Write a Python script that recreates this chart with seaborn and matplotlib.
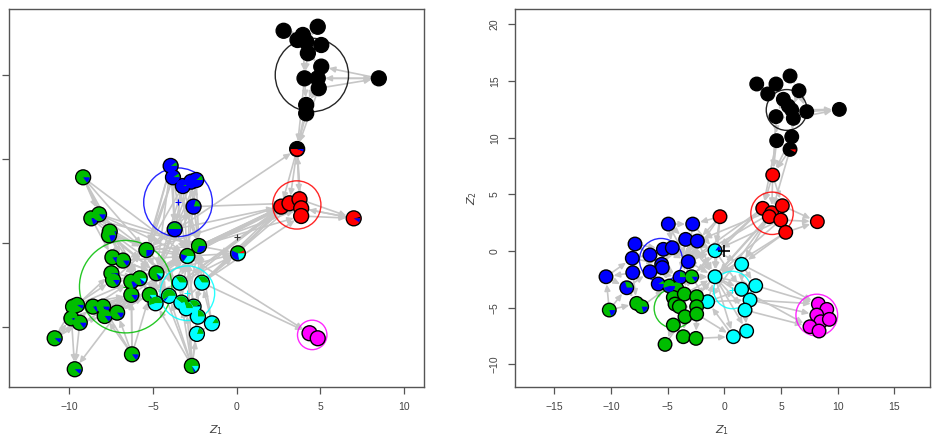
import numpy as np
import pandas as pd
import matplotlib
matplotlib.use("Agg")
import matplotlib.pyplot as plt
import seaborn as sns
from matplotlib.patches import Wedge, Circle

# ---------------- data ----------------
cluster_order = ["black", "red", "green", "blue", "cyan", "magenta"]
cluster_colors = {"black": "#000000", "red": "#FF0000", "green": "#00BE00",
                  "blue": "#0000FF", "cyan": "#00FFFF", "magenta": "#FF00FF"}

# ---- left panel (mixed-membership fit) ----
left_names = ["K1", "K2", "K3", "K4", "K5", "K6", "K7", "K8", "K9", "K10", "K11", "K12", "K13", "K14", "K15",
              "R1", "R2", "R3", "R4", "R5", "R6",
              "M1", "M2",
              "B1", "B2", "B3", "B4", "B5", "B6", "B7",
              "G1", "G2", "G3", "G4", "G5", "G6", "G7", "G8", "G9", "G10", "G11", "G12", "G13", "G14", "G15",
              "G16", "G17", "G18", "G19", "G20", "G21", "G22", "G23", "G24", "G25", "G26", "G27", "G28", "G29", "G30",
              "C1", "C2", "C3", "C4", "C5", "C6", "C7", "C8", "C9", "C10"]
left_x = [2.81, 4.85, 3.96, 3.64, 4.16, 5.06, 4.26, 5.06, 4.06, 4.85, 4.91, 4.16, 4.16, 8.50, 3.62,
          2.67, 3.16, 3.76, 3.86, 3.86, 7.00,
          4.36, 4.85,
          -3.94, -3.80, -3.21, -2.71, -2.41, -2.57, -3.70,
          -9.17, -8.68, -8.22, -7.58, -7.62, -5.39, -7.42, -6.79, -7.48, -7.38, -6.29, -5.79, -4.79, -6.29, -5.19,
          -9.77, -9.53, -9.87, -9.37, -8.58, -7.98, -7.88, -7.14, -10.87, -9.67, -6.25, -2.67, -2.25, -2.94, 0.08,
          -3.40, -2.07, -4.04, -4.84, -3.30, -2.57, -3.00, -2.31, -1.47, -2.37]
left_y = [12.67, 12.91, 12.42, 12.12, 12.02, 11.82, 11.33, 10.53, 9.83, 9.83, 9.24, 8.24, 7.74, 9.83, 5.61,
          2.17, 2.37, 2.61, 2.07, 1.61, 1.47,
          -5.39, -5.69,
          4.60, 3.92, 3.40, 3.66, 3.76, 2.17, 0.82,
          3.92, 1.47, 1.71, 0.68, 0.45, -0.42, -0.86, -1.05, -1.81, -2.21, -2.31, -2.11, -1.81, -3.10, -3.10,
          -3.80, -3.70, -4.50, -4.76, -3.80, -3.80, -4.36, -4.16, -5.69, -7.54, -6.65, -7.34, -0.18, -0.78, -0.62,
          -2.37, -2.37, -3.16, -3.60, -3.56, -3.80, -3.90, -4.40, -4.80, -5.43]
left_group = (["black"] * 15 + ["red"] * 6 + ["magenta"] * 2 + ["blue"] * 7 +
              ["green"] * 30 + ["cyan"] * 10)

# membership fractions (black, red, green, blue, cyan, magenta) for mixed nodes
left_mix = {
    "K15": [0.50, 0.44, 0, 0.06, 0, 0], "R6": [0.04, 0.86, 0, 0.10, 0, 0],
    "B1": [0, 0, 0.10, 0.90, 0, 0], "B2": [0, 0, 0.10, 0.90, 0, 0], "B3": [0, 0, 0.08, 0.92, 0, 0],
    "B4": [0, 0, 0.10, 0.90, 0, 0], "B5": [0, 0, 0.12, 0.88, 0, 0], "B6": [0, 0, 0.20, 0.80, 0, 0],
    "B7": [0, 0, 0.50, 0.50, 0, 0],
    "G1": [0, 0, 0.85, 0.15, 0, 0], "G2": [0, 0, 0.80, 0.20, 0, 0], "G3": [0, 0, 0.85, 0.15, 0, 0],
    "G4": [0, 0, 0.80, 0.20, 0, 0], "G5": [0, 0, 0.80, 0.20, 0, 0], "G6": [0, 0, 0.75, 0.25, 0, 0],
    "G7": [0, 0, 0.85, 0.15, 0, 0], "G8": [0, 0, 0.85, 0.15, 0, 0], "G9": [0, 0, 0.85, 0.15, 0, 0],
    "G10": [0, 0, 0.85, 0.15, 0, 0], "G11": [0, 0, 0.80, 0.20, 0, 0], "G12": [0, 0, 0.80, 0.10, 0.10, 0],
    "G13": [0, 0, 0.80, 0.10, 0.10, 0], "G14": [0, 0, 0.85, 0.15, 0, 0], "G15": [0, 0, 0.80, 0.05, 0.15, 0],
    "G16": [0, 0, 0.90, 0.10, 0, 0], "G17": [0, 0, 0.90, 0.10, 0, 0], "G18": [0, 0, 0.90, 0.10, 0, 0],
    "G19": [0, 0, 0.85, 0.15, 0, 0], "G20": [0, 0, 0.85, 0.15, 0, 0], "G21": [0, 0, 0.85, 0.15, 0, 0],
    "G22": [0, 0, 0.85, 0.15, 0, 0], "G23": [0, 0, 0.85, 0.15, 0, 0], "G24": [0, 0, 0.88, 0.12, 0, 0],
    "G25": [0, 0, 0.88, 0.12, 0, 0], "G26": [0, 0, 0.85, 0.15, 0, 0], "G27": [0, 0, 0.80, 0.05, 0.15, 0],
    "G28": [0, 0, 0.70, 0.30, 0, 0], "G29": [0, 0, 0.45, 0.20, 0.35, 0],
    "G30": [0, 0.08, 0.35, 0.35, 0.22, 0],
    "C1": [0, 0, 0.35, 0, 0.65, 0], "C2": [0, 0, 0.35, 0, 0.65, 0], "C3": [0, 0, 0.60, 0.05, 0.35, 0],
    "C4": [0, 0, 0.55, 0, 0.45, 0], "C5": [0, 0, 0.40, 0, 0.60, 0], "C6": [0.05, 0, 0.30, 0, 0.65, 0],
    "C7": [0, 0, 0.30, 0, 0.70, 0], "C8": [0, 0, 0.25, 0, 0.75, 0], "C9": [0, 0, 0.15, 0, 0.85, 0],
    "C10": [0, 0, 0.20, 0, 0.80, 0],
}

left_edges = [
    ("K1", "K3"), ("K1", "K4"), ("K1", "K7"), ("K2", "K3"), ("K2", "K5"), ("K3", "K5"), ("K4", "K5"),
    ("K5", "K6"), ("K6", "K7"), ("K7", "K8"), ("K7", "K9"), ("K8", "K10"), ("K9", "K10"), ("K9", "K11"),
    ("K10", "K11"), ("K11", "K12"), ("K12", "K13"), ("K9", "K12"), ("K8", "K12"), ("K14", "K8"),
    ("K14", "K10"), ("K9", "K14"), ("K11", "K14"), ("K3", "K9"), ("K4", "K7"),
    ("K12", "K15"), ("K13", "K15"), ("K11", "K15"), ("K9", "K15"),
    ("K15", "R1"), ("K15", "R2"), ("K15", "R3"), ("K15", "R4"), ("R3", "K15"),
    ("R1", "R2"), ("R2", "R3"), ("R3", "R4"), ("R4", "R5"), ("R1", "R5"), ("R2", "R5"),
    ("R3", "R6"), ("R4", "R6"), ("R5", "R6"), ("R6", "R4"),
    ("G28", "R1"), ("G28", "R2"), ("G29", "R1"), ("C2", "R1"), ("C2", "R2"), ("G28", "R3"), ("B7", "R1"),
    ("B6", "R2"), ("G13", "R1"), ("G30", "R1"), ("C1", "R2"), ("G6", "K15"),
    ("C1", "R1"), ("C5", "R2"), ("C3", "R1"), ("G12", "R1"), ("G6", "R2"), ("G29", "R3"), ("C2", "R3"),
    ("G28", "R4"), ("G28", "R5"), ("C2", "R5"),
    ("G28", "G30"), ("G29", "G30"), ("C2", "G30"), ("C1", "G30"), ("G13", "G30"),
    ("G29", "M1"), ("C2", "M1"), ("M1", "M2"),
    ("B1", "B2"), ("B2", "B3"), ("B3", "B4"), ("B4", "B5"), ("B1", "B3"), ("B2", "B4"), ("B6", "B5"),
    ("B7", "B6"), ("B1", "B7"), ("B3", "B7"), ("B2", "B7"), ("B4", "B6"),
    ("B1", "G6"), ("B2", "G29"), ("B3", "G28"), ("B4", "G29"), ("B5", "G13"), ("B6", "G28"), ("B7", "G29"),
    ("B7", "G13"), ("B2", "G12"), ("B3", "G6"), ("B1", "G13"), ("B5", "G29"), ("B6", "G6"),
    ("B1", "G12"), ("B2", "G6"), ("B3", "G13"), ("B4", "G13"), ("B5", "G28"), ("B6", "G13"), ("B7", "G6"),
    ("B1", "G28"), ("B2", "G28"), ("B4", "G28"), ("B3", "G29"),
    ("G1", "G4"), ("G1", "G6"), ("G1", "G29"), ("G1", "G3"), ("G2", "G3"), ("G2", "G7"), ("G3", "G4"),
    ("G4", "G6"), ("G4", "G8"), ("G5", "G13"), ("G2", "G13"), ("G3", "G28"), ("G6", "G8"), ("G7", "G8"),
    ("G7", "G9"), ("G8", "G12"), ("G9", "G10"), ("G10", "G11"), ("G11", "G12"), ("G12", "G13"),
    ("G11", "G14"), ("G12", "G15"), ("G13", "G15"), ("G14", "G15"), ("G14", "G23"), ("G15", "G23"),
    ("G16", "G17"), ("G16", "G18"), ("G17", "G19"), ("G18", "G19"), ("G17", "G20"), ("G20", "G21"),
    ("G21", "G22"), ("G22", "G23"), ("G19", "G22"), ("G16", "G10"), ("G17", "G9"), ("G20", "G11"),
    ("G21", "G14"), ("G23", "G14"), ("G24", "G16"), ("G24", "G18"), ("G24", "G20"), ("G24", "G19"),
    ("G18", "G25"), ("G19", "G25"), ("G14", "G25"), ("G26", "G14"), ("G26", "G15"), ("G26", "G21"),
    ("G26", "G22"), ("G26", "G11"), ("G26", "G23"),
    ("G1", "G8"), ("G1", "G12"), ("G2", "G6"), ("G3", "G6"), ("G4", "G12"), ("G5", "G8"), ("G7", "G12"),
    ("G8", "G13"), ("G9", "G12"), ("G10", "G13"), ("G11", "G13"), ("G14", "G12"), ("G16", "G11"),
    ("G17", "G14"), ("G18", "G14"), ("G19", "G23"), ("G20", "G14"), ("G21", "G15"), ("G22", "G15"),
    ("G23", "G12"), ("G24", "G14"), ("G9", "G6"), ("G10", "G6"), ("G6", "G13"), ("G6", "G29"),
    ("G12", "G29"), ("G8", "G29"), ("G11", "G29"), ("G14", "G29"), ("G15", "G29"), ("G13", "G28"),
    ("G12", "G28"),
    ("G27", "C4"), ("G27", "C5"), ("G27", "C7"), ("G27", "C8"), ("G27", "C10"), ("G27", "G29"),
    ("G27", "G13"), ("G27", "C3"),
    ("C1", "G13"), ("C1", "G15"), ("C3", "G15"), ("C4", "G15"), ("C3", "G12"), ("C5", "C6"), ("C6", "C8"),
    ("C7", "C8"), ("C8", "C10"), ("C9", "C2"), ("C2", "C6"), ("C1", "C5"), ("C9", "C8"), ("C10", "C9"),
    ("G29", "C1"), ("G29", "C2"), ("G28", "C2"), ("G6", "C1"), ("G6", "C3"), ("G13", "C3"),
    ("C3", "G29"), ("C5", "G29"), ("C6", "G29"), ("C7", "G28"), ("C8", "G28"), ("C9", "G28"),
    ("C10", "G29"), ("C4", "G13"), ("C4", "G12"),
    ("G2", "G28"), ("G3", "G29"), ("G5", "G29"), ("G6", "G28"), ("G4", "C1"), ("G7", "G13"),
]

left_center_x = [4.50, 3.60, -6.63, -3.50, -2.94, 4.52]
left_center_y = [10.03, 2.27, -2.61, 2.43, -3.00, -5.49]
left_radius = [2.19, 1.44, 2.76, 2.05, 1.63, 0.88]

# ---- right panel (hard-clustering fit) ----
right_names = ["k1", "k2", "k3", "k4", "k5", "k6", "k7", "k8", "k9", "k10", "k11", "k12", "k13", "k14", "k15",
               "r1", "r2", "r3", "r4", "r5", "r6", "r7", "r8", "r9",
               "m1", "m2", "m3", "m4", "m5", "m6", "m7",
               "c1", "c2", "c3", "c4", "c5", "c6", "c7", "c8", "c9", "c10",
               "b1", "b2", "b3", "b4", "b5", "b6", "b7", "b8", "b9", "b10", "b11", "b12", "b13", "b14", "b15",
               "b16", "b17", "b18",
               "g1", "g2", "g3", "g4", "g5", "g6", "g7", "g8", "g9", "g10", "g11", "g12", "g13", "g14", "g15",
               "g16", "g17", "g18"]
right_x = [2.86, 3.83, 4.56, 5.80, 6.59, 5.21, 5.65, 5.95, 7.27, 4.56, 6.09, 4.62, 5.95, 5.80, 10.15,
           4.27, 3.39, 4.18, 3.97, 5.12, 4.98, 5.42, 8.21, -0.38,
           8.30, 9.04, 8.16, 8.51, 9.27, 7.56, 8.36,
           -0.82, -0.82, 1.53, 2.77, 1.53, 2.27, 1.83, 1.97, 0.80, -1.47,
           -4.94, -2.79, -3.41, -2.38, -7.88, -5.38, -4.59, -6.56, -8.12, -5.53, -5.47, -3.18, -8.08, -6.56,
           -10.44, -5.83, -8.61, -3.91,
           -2.88, -4.85, -4.20, -4.50, -3.53, -2.44, -4.35, -3.97, -2.44, -3.47, -2.44, -4.50, -3.62, -2.50,
           -5.23, -10.15, -7.73, -7.29]
right_y = [14.74, 13.86, 14.74, 15.45, 14.15, 13.39, 12.80, 12.45, 12.30, 11.86, 11.71, 9.74, 10.09, 8.97, 12.50,
           6.71, 3.77, 3.38, 3.03, 4.00, 2.74, 1.65, 2.59, 3.03,
           -4.68, -5.15, -5.65, -6.24, -6.03, -6.68, -7.06,
           0.03, -2.27, -1.17, -3.06, -3.38, -4.32, -5.21, -7.06, -7.56, -4.47,
           2.38, 2.38, 1.03, 0.88, 0.62, 0.15, 0.29, -0.35, -0.64, -1.17, -1.47, -0.94, -1.91, -1.83,
           -2.27, -2.91, -3.24, -2.32,
           -2.27, -3.09, -3.29, -4.09, -3.80, -4.03, -4.68, -4.91, -4.91, -5.80, -5.56, -6.53, -7.56, -7.71,
           -8.24, -5.21, -4.62, -4.91]
right_group = (["black"] * 15 + ["red"] * 9 + ["magenta"] * 7 + ["cyan"] * 10 +
               ["blue"] * 18 + ["green"] * 18)

right_mix = {
    "c1": [0, 0, 0, 0.15, 0.85, 0], "b17": [0, 0, 0.30, 0.70, 0, 0], "b18": [0, 0, 0.25, 0.75, 0, 0],
    "b16": [0, 0, 0.10, 0.90, 0, 0], "g2": [0, 0, 0.55, 0.45, 0, 0], "g16": [0, 0, 0.80, 0.20, 0, 0],
    "g17": [0, 0, 0.85, 0.15, 0, 0], "g18": [0, 0, 0.80, 0.20, 0, 0], "g1": [0, 0, 0.85, 0.15, 0, 0],
    "k14": [0.92, 0.08, 0, 0, 0, 0],
}

right_edges = [
    ("k1", "k2"), ("k2", "k3"), ("k3", "k4"), ("k4", "k5"), ("k2", "k6"), ("k3", "k6"), ("k6", "k7"),
    ("k7", "k8"), ("k8", "k9"), ("k5", "k9"), ("k6", "k10"), ("k7", "k11"), ("k10", "k11"), ("k8", "k11"),
    ("k9", "k15"), ("k8", "k15"), ("k11", "k15"), ("k10", "k12"), ("k11", "k13"), ("k12", "k14"),
    ("k13", "k14"), ("k11", "k14"), ("k5", "k8"), ("k1", "k6"),
    ("k12", "r1"), ("k14", "r1"), ("k12", "r2"), ("k14", "r3"), ("k10", "r1"), ("r1", "r2"), ("r1", "r3"),
    ("r1", "r5"), ("k13", "r1"),
    ("r2", "r3"), ("r3", "r4"), ("r3", "r5"), ("r4", "r6"), ("r5", "r6"), ("r6", "r7"), ("r2", "r4"),
    ("r5", "r8"), ("r6", "r8"), ("r7", "r8"),
    ("r2", "c1"), ("r3", "c3"), ("r4", "c2"), ("r6", "c1"), ("r7", "c3"), ("r2", "g1"), ("r3", "b12"),
    ("r4", "c10"), ("r6", "c2"), ("r7", "c2"), ("r5", "b4"), ("r3", "g6"), ("r2", "b12"),
    ("r9", "b2"), ("r9", "b4"), ("r9", "c1"), ("r9", "c2"), ("r9", "b12"),
    ("m1", "m2"), ("m1", "m3"), ("m2", "m5"), ("m3", "m4"), ("m4", "m5"), ("m3", "m6"), ("m4", "m7"),
    ("m6", "m7"), ("m3", "m5"),
    ("c4", "m1"), ("c6", "m3"), ("c5", "m6"), ("c7", "m6"), ("c6", "m1"), ("c3", "m1"),
    ("c1", "c2"), ("c2", "c3"), ("c3", "c4"), ("c4", "c5"), ("c5", "c6"), ("c6", "c7"), ("c7", "c8"),
    ("c8", "c9"), ("c9", "c10"), ("c10", "c2"), ("c2", "c5"), ("c1", "c3"), ("c2", "c6"), ("c2", "c7"),
    ("c2", "c8"), ("c2", "c4"), ("c3", "c5"), ("c1", "c5"), ("c10", "c6"), ("c10", "c5"), ("c2", "c9"),
    ("b1", "b2"), ("b2", "b3"), ("b3", "b4"), ("b1", "b7"), ("b5", "b6"), ("b6", "b7"), ("b5", "b9"),
    ("b8", "b9"), ("b9", "b13"), ("b13", "b15"), ("b15", "b17"), ("b17", "b14"), ("b13", "b14"),
    ("b10", "b11"), ("b6", "b10"), ("b7", "b11"), ("b11", "b16"), ("b14", "b16"), ("b12", "b3"),
    ("b12", "b4"), ("b12", "b18"), ("b1", "b3"), ("b5", "b8"), ("b8", "b10"), ("b15", "b9"),
    ("b4", "c1"), ("b2", "c1"),
    ("b5", "b10"), ("b6", "b11"), ("b7", "b12"), ("b9", "b10"), ("b1", "b12"), ("b2", "b12"),
    ("b3", "b18"), ("b10", "b18"), ("b11", "b18"), ("b14", "b18"), ("b6", "b12"), ("b8", "b11"),
    ("b7", "b10"),
    ("b16", "g2"), ("b18", "g1"), ("b18", "g3"), ("b16", "g3"), ("b17", "g17"), ("b13", "g17"),
    ("b12", "g1"), ("b4", "g1"), ("b18", "g5"), ("b16", "g4"), ("b12", "g5"), ("b11", "g2"), ("b10", "g2"),
    ("g1", "g5"), ("g2", "g3"), ("g3", "g5"), ("g4", "g7"), ("g5", "g6"), ("g6", "g9"), ("g7", "g8"),
    ("g8", "g10"), ("g9", "g11"), ("g10", "g11"), ("g10", "g12"), ("g12", "g15"), ("g13", "g14"),
    ("g10", "g13"), ("g11", "g14"), ("g12", "g13"), ("g16", "g17"), ("g17", "g18"), ("g18", "g2"),
    ("g16", "b15"), ("g16", "b17"), ("g4", "g2"), ("g15", "g10"), ("g3", "g4"),
    ("g1", "g3"), ("g2", "g5"), ("g3", "g6"), ("g4", "g5"), ("g5", "g9"), ("g7", "g10"), ("g8", "g9"),
    ("g4", "g8"), ("g3", "g7"),
    ("g1", "c2"), ("g6", "c10"), ("g9", "c10"), ("g5", "c2"), ("g1", "c1"), ("g11", "c9"), ("g14", "c9"),
    ("g6", "c2"), ("b12", "c2"), ("b18", "c2"), ("b4", "c2"), ("b3", "c1"),
    ("g1", "c10"), ("g5", "c10"), ("b12", "c1"), ("b3", "c2"),
]

right_center_x = [5.50, 4.21, -4.44, -5.59, 0.71, 8.16]
right_center_y = [12.45, 3.33, -5.06, -0.79, -3.44, -5.65]
right_radius = [1.80, 1.87, 1.75, 1.90, 1.65, 1.84]

left_xticks = [-10, -5, 0, 5, 10]
left_yticks = [-5, 0, 5, 10]
right_xticks = [-15, -10, -5, 0, 5, 10, 15]
right_yticks = [-10, -5, 0, 5, 10, 15, 20]

# ---------------- plotting ----------------
sns.set_theme(style="ticks")
plt.rcParams["font.family"] = ["Liberation Sans", "DejaVu Sans"]

W, H = 938, 437
fig = plt.figure(figsize=(W / 100, H / 100), dpi=100)
ax1 = fig.add_axes([9 / W, 1 - 387 / H, 415 / W, 378 / H])
ax2 = fig.add_axes([515 / W, 1 - 387 / H, 415 / W, 378 / H])

EDGE_COLOR = "#c6c6c6"


def draw_panel(ax, names, xs, ys, groups, mix, edges, cx, cy, cr, size, wedge_r):
    df = pd.DataFrame({"name": names, "x": xs, "y": ys, "group": groups})
    pos = {n: (x, y) for n, x, y in zip(names, xs, ys)}
    for s, t in edges:
        ax.annotate("", xy=pos[t], xytext=pos[s], xycoords="data",
                    arrowprops=dict(arrowstyle="-|>,head_length=0.3,head_width=0.14",
                                    color=EDGE_COLOR, lw=1.2, shrinkA=4.5, shrinkB=5.5),
                    zorder=1)
    for c, x0, y0, r in zip(cluster_order, cx, cy, cr):
        ax.add_patch(Circle((x0, y0), r, fill=False, ec=cluster_colors[c], lw=1.0, alpha=0.85, zorder=2))
        ax.plot([x0], [y0], marker="+", ms=4, mew=0.8, color=cluster_colors[c], zorder=2)
    sns.scatterplot(data=df, x="x", y="y", hue="group", palette=cluster_colors, s=size,
                    edgecolor="black", linewidth=1.0, legend=False, ax=ax, zorder=3)
    for n, probs in mix.items():
        x0, y0 = pos[n]
        start = 0.0
        for c, p in zip(cluster_order, probs):
            if p <= 0:
                continue
            ax.add_patch(Wedge((x0, y0), wedge_r, start, start + 360 * p,
                               facecolor=cluster_colors[c], edgecolor="none", zorder=4))
            start += 360 * p


draw_panel(ax1, left_names, left_x, left_y, left_group, left_mix, left_edges,
           left_center_x, left_center_y, left_radius, 115, 0.385)
draw_panel(ax2, right_names, right_x, right_y, right_group, right_mix, right_edges,
           right_center_x, right_center_y, right_radius, 95, 0.51)

# origin markers
ax1.plot([0], [0.35], marker="+", ms=5, mew=0.8, color="#333333", zorder=2)
ax2.plot([0], [0], marker="+", ms=8, mew=1.2, color="black", zorder=5)

ax1.set_xlim(-13.6, 11.2)
ax1.set_ylim(-8.6, 13.97)
ax2.set_xlim(-18.47, 18.15)
ax2.set_ylim(-12.0, 21.36)

ax1.set_xticks(left_xticks)
ax1.set_xticklabels(["\u2212" + str(-v) if v < 0 else str(v) for v in left_xticks])
ax1.set_yticks(left_yticks)
ax1.set_yticklabels([""] * len(left_yticks))
ax2.set_xticks(right_xticks)
ax2.set_xticklabels(["\u2212" + str(-v) if v < 0 else str(v) for v in right_xticks])
ax2.set_yticks(right_yticks)
ax2.set_yticklabels(["\u2212" + str(-v) if v < 0 else str(v) for v in right_yticks],
                    rotation=90, va="center")

for ax in (ax1, ax2):
    for sp in ax.spines.values():
        sp.set_visible(True)
        sp.set_color("#555555")
        sp.set_linewidth(1.0)
    ax.tick_params(axis="both", direction="out", length=5, width=0.9, color="#555555",
                   labelsize=7.5, labelcolor="#444444", pad=6)
    ax.set_facecolor("white")
    ax.set_xlabel("$Z_1$", fontsize=8, color="#444444", labelpad=8)
    ax.set_ylabel("")

ax2.set_ylabel("$Z_2$", fontsize=8, color="#444444", labelpad=8)

fig.savefig("out.png", dpi=100, facecolor="white")
